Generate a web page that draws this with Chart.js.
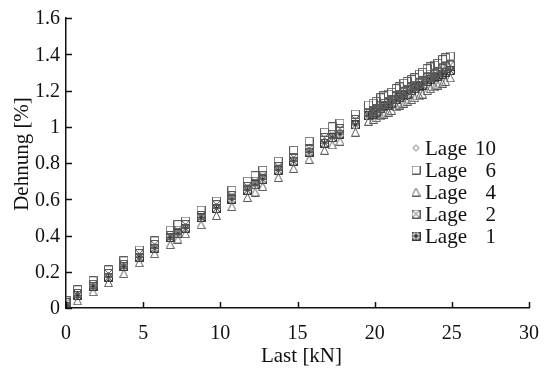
<!DOCTYPE html>
<html>
<head>
<meta charset="utf-8">
<script src="https://cdn.jsdelivr.net/npm/chart.js@4.4.1/dist/chart.umd.min.js"></script>
<style>
  html, body { margin: 0; padding: 0; background: #fff; }
</style>
</head>
<body>
<canvas id="chart" width="549" height="373"></canvas>
<script>
// Load steps [kN]
const loads = [0, 0.75, 1.75, 2.75, 3.75, 4.75, 5.75, 6.75, 7.25, 7.75, 8.75, 9.75, 10.75, 11.75, 12.25, 12.75,
  13.75, 14.75, 15.75, 16.75, 17.25, 17.75, 18.75,
  19.6, 19.9, 20.1, 20.4, 20.6, 20.9, 21.1, 21.4, 21.6, 21.9, 22.1, 22.4, 22.6, 22.9, 23.1, 23.4, 23.6, 23.9,
  24.1, 24.4, 24.6, 24.9]

// Strain [%] per layer
const lage10 = [0.02, 0.07, 0.12, 0.18, 0.23, 0.28, 0.34, 0.39, 0.42, 0.45, 0.50, 0.56, 0.61, 0.66, 0.69, 0.72,
  0.77, 0.82, 0.87, 0.92, 0.95, 0.97, 1.02,
  1.07, 1.08, 1.09, 1.10, 1.11, 1.13, 1.14, 1.15, 1.16, 1.18, 1.19, 1.20, 1.21, 1.23, 1.24, 1.25, 1.26, 1.28,
  1.29, 1.30, 1.31, 1.32]
const lage6 = [0.04, 0.10, 0.15, 0.21, 0.26, 0.32, 0.37, 0.43, 0.46, 0.48, 0.54, 0.59, 0.65, 0.70, 0.73, 0.76,
  0.81, 0.87, 0.92, 0.97, 1.00, 1.02, 1.07,
  1.12, 1.13, 1.14, 1.16, 1.17, 1.18, 1.19, 1.21, 1.22, 1.24, 1.25, 1.26, 1.27, 1.29, 1.30, 1.32, 1.33, 1.34,
  1.35, 1.37, 1.38, 1.39]
const lage4 = [0.01, 0.04, 0.09, 0.14, 0.19, 0.25, 0.30, 0.35, 0.38, 0.41, 0.46, 0.51, 0.56, 0.61, 0.64, 0.67,
  0.72, 0.77, 0.82, 0.87, 0.90, 0.92, 0.97,
  1.03, 1.04, 1.05, 1.06, 1.07, 1.08, 1.09, 1.11, 1.12, 1.13, 1.14, 1.15, 1.16, 1.17, 1.18, 1.20, 1.21, 1.22,
  1.23, 1.24, 1.25, 1.27]
const lage2 = [0.03, 0.08, 0.13, 0.19, 0.24, 0.30, 0.35, 0.40, 0.43, 0.46, 0.51, 0.57, 0.62, 0.67, 0.70, 0.73,
  0.78, 0.83, 0.88, 0.94, 0.96, 0.99, 1.04,
  1.08, 1.09, 1.10, 1.12, 1.13, 1.14, 1.15, 1.17, 1.18, 1.19, 1.20, 1.22, 1.23, 1.24, 1.25, 1.27, 1.28, 1.29,
  1.30, 1.32, 1.33, 1.34]
const lage1 = [0.01, 0.07, 0.12, 0.17, 0.23, 0.28, 0.33, 0.39, 0.41, 0.44, 0.50, 0.55, 0.60, 0.65, 0.68, 0.71,
  0.76, 0.81, 0.86, 0.91, 0.94, 0.96, 1.01,
  1.06, 1.07, 1.08, 1.10, 1.11, 1.12, 1.13, 1.15, 1.16, 1.17, 1.18, 1.20, 1.21, 1.22, 1.23, 1.25, 1.26, 1.27,
  1.28, 1.29, 1.30, 1.31]

const xTicks = [0, 5, 10, 15, 20, 25, 30]
const yTicks = [0, 0.2, 0.4, 0.6, 0.8, 1, 1.2, 1.4, 1.6]
const legendNames = ["10", "6", "4", "2", "1"]

const FONT = "'Liberation Serif', 'Times New Roman', serif"
const INK = "#111"

// Build small outline markers on their own canvases
function makeMarker(kind) {
  const s = 9
  const c = document.createElement("canvas")
  c.width = s
  c.height = s
  const g = c.getContext("2d")
  g.lineWidth = 1
  g.strokeStyle = kind === "star" ? "#333" : "#5a5a5a"
  g.beginPath()
  if (kind === "diamond") {
    g.moveTo(4.5, 1.5); g.lineTo(7.5, 4.5); g.lineTo(4.5, 7.5); g.lineTo(1.5, 4.5); g.closePath()
  } else if (kind === "square") {
    g.rect(0.5, 0.5, 8, 8)
  } else if (kind === "triangle") {
    g.moveTo(4.5, 0.5); g.lineTo(8.5, 8.5); g.lineTo(0.5, 8.5); g.closePath()
  } else if (kind === "cross") {
    g.rect(0.5, 0.5, 8, 8)
    g.moveTo(0.5, 0.5); g.lineTo(8.5, 8.5)
    g.moveTo(8.5, 0.5); g.lineTo(0.5, 8.5)
  } else {
    g.rect(0.5, 0.5, 8, 8)
    g.moveTo(0.5, 0.5); g.lineTo(8.5, 8.5)
    g.moveTo(8.5, 0.5); g.lineTo(0.5, 8.5)
    g.moveTo(4.5, 0.5); g.lineTo(4.5, 8.5)
    g.moveTo(0.5, 4.5); g.lineTo(8.5, 4.5)
  }
  g.stroke()
  return c
}

const markers = [makeMarker("diamond"), makeMarker("square"), makeMarker("triangle"), makeMarker("cross"), makeMarker("star")]
const series = [lage10, lage6, lage4, lage2, lage1]

const datasets = series.map((vals, i) => ({
  label: "Lage " + legendNames[i],
  data: loads.map((x, j) => ({ x: x, y: vals[j] })),
  pointStyle: markers[i],
  showLine: false,
}))

const fmt = (v) => String(+v.toFixed(1))

// Inward tick marks, tick labels and axis titles
const axisDecor = {
  id: "axisDecor",
  afterDraw(chart) {
    const { ctx, chartArea, scales } = chart
    ctx.save()
    ctx.strokeStyle = INK
    ctx.lineWidth = 1.5
    ctx.beginPath()
    xTicks.forEach((v) => {
      const px = Math.round(scales.x.getPixelForValue(v)) + 0.5
      ctx.moveTo(px, chartArea.bottom)
      ctx.lineTo(px, chartArea.bottom - 6)
    })
    yTicks.forEach((v) => {
      const py = Math.round(scales.y.getPixelForValue(v)) + 0.5
      ctx.moveTo(chartArea.left, py)
      ctx.lineTo(chartArea.left + 6, py)
    })
    ctx.stroke()

    ctx.fillStyle = INK
    ctx.font = "20px " + FONT
    ctx.textBaseline = "middle"
    ctx.textAlign = "center"
    xTicks.forEach((v) => {
      ctx.fillText(fmt(v), scales.x.getPixelForValue(v), chartArea.bottom + 26)
    })
    ctx.textAlign = "right"
    yTicks.forEach((v) => {
      ctx.fillText(fmt(v), chartArea.left - 6, scales.y.getPixelForValue(v) + 1)
    })

    ctx.font = "21px " + FONT
    ctx.textAlign = "center"
    ctx.fillText("Last [kN]", (chartArea.left + chartArea.right) / 2 + 4, chartArea.bottom + 48)
    ctx.translate(22, 154)
    ctx.rotate(-Math.PI / 2)
    ctx.fillText("Dehnung [%]", 0, 0)
    ctx.restore()
  },
}

// Legend inside the plot, numbers right aligned
const insideLegend = {
  id: "insideLegend",
  afterDraw(chart) {
    const { ctx } = chart
    ctx.save()
    ctx.font = "21px " + FONT
    ctx.fillStyle = INK
    ctx.textBaseline = "middle"
    legendNames.forEach((name, i) => {
      const y = 148 + i * 22
      const m = markers[i]
      ctx.drawImage(m, 416 - m.width / 2, y - m.height / 2)
      ctx.textAlign = "left"
      ctx.fillText("Lage", 425, y + 1)
      ctx.textAlign = "right"
      ctx.fillText(name, 496, y + 1)
    })
    ctx.restore()
  },
}

const ctx = document.getElementById("chart").getContext("2d")
new Chart(ctx, {
  type: "scatter",
  data: { datasets: datasets },
  options: {
    responsive: false,
    animation: false,
    layout: { padding: { top: 18, right: 20, left: 0, bottom: 0 } },
    scales: {
      x: {
        type: "linear",
        min: 0,
        max: 30,
        afterFit: (scale) => { scale.height = 65 },
        afterBuildTicks: (scale) => { scale.ticks = xTicks.map((v) => ({ value: v })) },
        grid: { display: false },
        border: { display: true, color: INK, width: 1.5 },
        ticks: { display: false },
      },
      y: {
        type: "linear",
        min: 0,
        max: 1.6,
        afterFit: (scale) => { scale.width = 66 },
        afterBuildTicks: (scale) => { scale.ticks = yTicks.map((v) => ({ value: v })) },
        grid: { display: false },
        border: { display: true, color: INK, width: 1.5 },
        ticks: { display: false },
      },
    },
    plugins: {
      legend: { display: false },
      tooltip: { enabled: false },
    },
  },
  plugins: [axisDecor, insideLegend],
})
</script>
</body>
</html>
